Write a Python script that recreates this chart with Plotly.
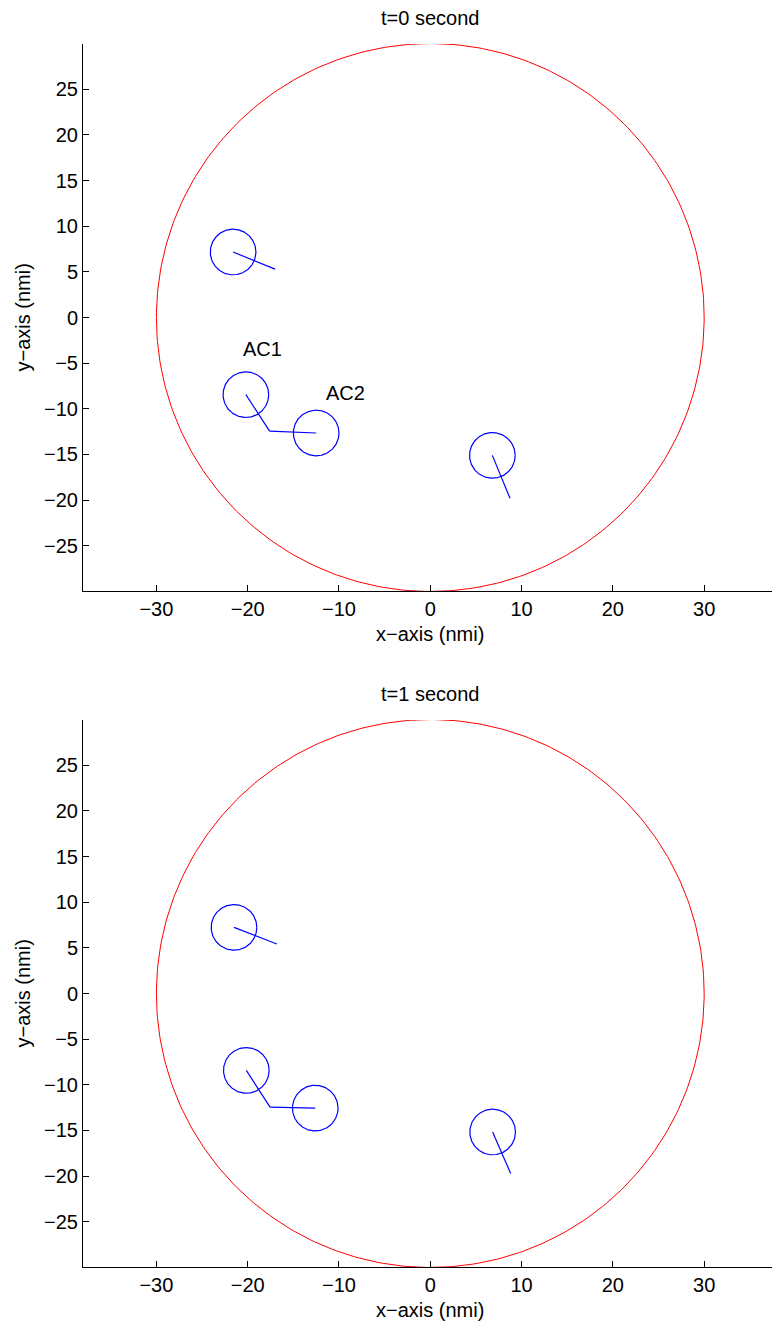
import numpy as np
import plotly.graph_objects as go

# ---- data ----
titles = ["t=0 second", "t=1 second"]
region_center = [0.0, 0.0]
region_radius = 30.0
ac_radius = 2.5

# aircraft centres per frame
ac_x = [[-21.6, -20.2, -12.5, 6.8], [-21.5, -20.15, -12.6, 6.83]]
ac_y = [[7.17, -8.45, -12.65, -15.1], [7.24, -8.42, -12.55, -15.17]]
# heading line end points
head_x = [[-17.0, -17.6, -17.6, 8.73], [-16.8, -17.55, -17.55, 8.8]]
head_y = [[5.3, -12.45, -12.45, -19.8], [5.42, -12.45, -12.45, -19.7]]

label_text = ["AC1", "AC2"]
label_x = [-20.7, -11.65]
label_y = [-3.4, -8.3]

x_ticks = [-30, -20, -10, 0, 10, 20, 30]
y_ticks = [-25, -20, -15, -10, -5, 0, 5, 10, 15, 20, 25]

# ---- figure ----
W, H = 772, 1328
FONT = "Liberation Sans, Arial, Helvetica, sans-serif"
FS = 20
fig = go.Figure()

top_px = [44, 720]
bot_px = [591, 1267]
domains_y = [[1 - bot_px[k] / H, 1 - top_px[k] / H] for k in range(2)]
x_dom = [83 / W, 1.0]
theta = np.linspace(0, 2 * np.pi, 361)

for k in range(2):
    xa = "x" if k == 0 else "x2"
    ya = "y" if k == 0 else "y2"
    # big red circle
    fig.add_trace(go.Scatter(
        x=region_center[0] + region_radius * np.cos(theta),
        y=region_center[1] + region_radius * np.sin(theta),
        mode="lines", line=dict(color="red", width=1),
        xaxis=xa, yaxis=ya, showlegend=False, hoverinfo="skip"))
    for i in range(len(ac_x[k])):
        cx, cy = ac_x[k][i], ac_y[k][i]
        fig.add_trace(go.Scatter(
            x=cx + ac_radius * np.cos(theta),
            y=cy + ac_radius * np.sin(theta),
            mode="lines", line=dict(color="blue", width=1.2),
            xaxis=xa, yaxis=ya, showlegend=False, hoverinfo="skip"))
        fig.add_trace(go.Scatter(
            x=[cx, head_x[k][i]], y=[cy, head_y[k][i]],
            mode="lines", line=dict(color="blue", width=1.2),
            xaxis=xa, yaxis=ya, showlegend=False, hoverinfo="skip"))
    # subplot title
    fig.add_annotation(text=titles[k], xref="paper", yref="paper",
                       x=430 / W, y=1 - (top_px[k] - 26) / H,
                       xanchor="center", yanchor="middle",
                       showarrow=False, font=dict(family=FONT, size=FS, color="black"))
    # axis titles
    fig.add_annotation(text="x\u2212axis (nmi)", xref="paper", yref="paper",
                       x=430 / W, y=1 - (bot_px[k] + 43) / H,
                       xanchor="center", yanchor="middle",
                       showarrow=False, font=dict(family=FONT, size=FS, color="black"))
    fig.add_annotation(text="y\u2212axis (nmi)", xref="paper", yref="paper",
                       x=22 / W, y=1 - ((top_px[k] + bot_px[k]) / 2) / H,
                       xanchor="center", yanchor="middle", textangle=-90,
                       showarrow=False, font=dict(family=FONT, size=FS, color="black"))

# AC labels on first plot
for t, lx, ly in zip(label_text, label_x, label_y):
    fig.add_annotation(text=t, x=lx, y=ly, xref="x", yref="y",
                       xanchor="left", yanchor="middle", showarrow=False,
                       font=dict(family=FONT, size=FS, color="black"))

axis_common = dict(
    showgrid=False, zeroline=False, showline=True, linecolor="black",
    linewidth=1, ticks="inside", ticklen=6, tickcolor="black", tickwidth=1,
    tickfont=dict(family=FONT, size=FS, color="black"), mirror=False,
)

x_rng = [-38.04, 37.43]
y_rng = [-29.95, 29.95]

for k in range(2):
    sx = "" if k == 0 else "2"
    fig.update_layout(**{
        f"xaxis{sx}": dict(axis_common, domain=x_dom, range=x_rng,
                           tickvals=x_ticks, anchor=f"y{sx}"),
        f"yaxis{sx}": dict(axis_common, domain=domains_y[k], range=y_rng,
                           tickvals=y_ticks, anchor=f"x{sx}"),
    })

fig.update_layout(
    width=W, height=H, margin=dict(l=0, r=0, t=0, b=0),
    paper_bgcolor="white", plot_bgcolor="white",
    font=dict(family=FONT, size=FS, color="black"),
    showlegend=False,
)

fig.write_html("out.html")
